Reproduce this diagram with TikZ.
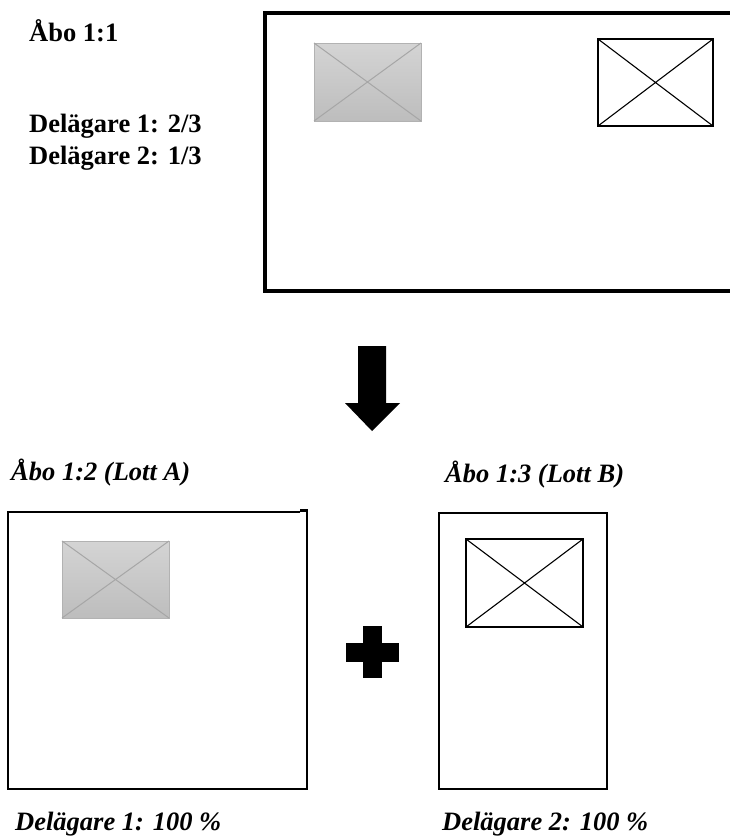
\documentclass[tikz,border=0pt]{standalone}
\usepackage{fontspec}
\setmainfont{Liberation Serif}
\definecolor{grayTop}{HTML}{D4D4D4}
\definecolor{grayBot}{HTML}{BDBDBD}
\definecolor{grayEdge}{HTML}{B2B2B2}
\definecolor{grayLine}{HTML}{A6A6A6}
\begin{document}
\begin{tikzpicture}[x=1pt,y=-1pt,
  lbl/.style={anchor=base west,inner sep=0pt,font=\fontsize{26.5}{30}\selectfont\bfseries},
  ilbl/.style={anchor=base west,inner sep=0pt,font=\fontsize{26.5}{30}\selectfont\bfseries\itshape},
  plotline/.style={line width=3.1pt},
  lotline/.style={line width=2.8pt},
  houseline/.style={line width=2.9pt},
  crossline/.style={line width=1.1pt},
  shedbox/.style={top color=grayTop,bottom color=grayBot,draw=grayEdge,line width=1pt},
  shedcross/.style={draw=grayLine,line width=1pt},
  bigarrow/.style={fill=black,draw=none}]
\useasboundingbox (0,0) rectangle (729,838);

% labels
\node[lbl] (t1) at (29,41) {Åbo 1:1};
\node[lbl] (o1) at (29,132) {Delägare 1: 2/3};
\node[lbl] (o2) at (29,164) {Delägare 2: 1/3};
\node[ilbl] (ta) at (11,480) {Åbo 1:2 (Lott A)};
\node[ilbl] (tb) at (445,482) {Åbo 1:3 (Lott B)};
\node[ilbl] (oa) at (15,830) {Delägare 1: 100 \%};
\node[ilbl] (ob) at (442,830) {Delägare 2: 100 \%};

% original plot 1:1
\draw[plotline] (732,13) -- (265,13) -- (265,291) -- (732,291);
\shade[shedbox] (314,43) rectangle (421,121);
\draw[shedcross] (314,43) -- (421,121) (314,121) -- (421,43);
\draw[houseline] (598,39) rectangle (713,126);
\draw[crossline] (598,39) -- (713,126) (598,126) -- (713,39);

% arrow
\fill[bigarrow] (358,346) -- (386,346) -- (386,403) -- (400,403) -- (372,431)
  -- (345,403) -- (358,403) -- cycle;

% lot A
\draw[lotline] (300,512) -- (8,512) -- (8,789) -- (307,789) -- (307,510.5) -- (300,510.5);
\shade[shedbox] (62,541) rectangle (169,618);
\draw[shedcross] (62,541) -- (169,618) (62,618) -- (169,541);

% plus
\fill[bigarrow] (363,626) rectangle (382,678);
\fill[bigarrow] (346,643) rectangle (399,662);

% lot B
\draw[lotline] (439,513) rectangle (607,789);
\draw[houseline] (466,539) rectangle (583,627);
\draw[crossline] (466,539) -- (583,627) (466,627) -- (583,539);
\end{tikzpicture}
\end{document}
